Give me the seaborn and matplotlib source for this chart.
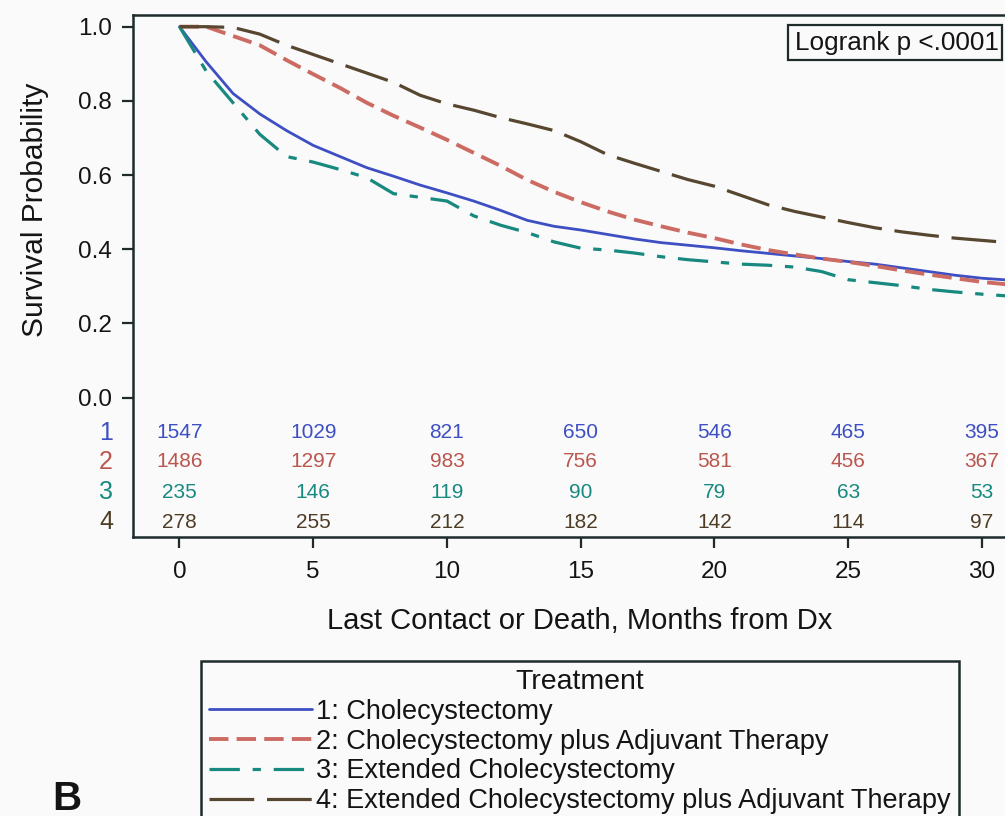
import numpy as np
import pandas as pd
import seaborn as sns
import matplotlib.pyplot as plt
from matplotlib.patches import Rectangle

# survival curves, one value per month
months = list(range(0, 32))
surv_chole = [1.0, 0.905, 0.82, 0.765, 0.72, 0.68, 0.65, 0.62, 0.597, 0.573,
              0.552, 0.53, 0.505, 0.478, 0.462, 0.452, 0.44, 0.428, 0.418, 0.411,
              0.404, 0.396, 0.389, 0.382, 0.375, 0.367, 0.36, 0.35, 0.34, 0.33,
              0.322, 0.317]
surv_chole_adj = [1.0, 1.0, 0.975, 0.95, 0.91, 0.872, 0.835, 0.795, 0.76, 0.728,
                  0.695, 0.66, 0.625, 0.587, 0.555, 0.527, 0.502, 0.48, 0.462, 0.445,
                  0.43, 0.413, 0.398, 0.386, 0.375, 0.366, 0.355, 0.343, 0.332, 0.322,
                  0.312, 0.305]
surv_ext = [1.0, 0.88, 0.795, 0.71, 0.65, 0.635, 0.615, 0.593, 0.55, 0.54,
            0.53, 0.49, 0.465, 0.445, 0.42, 0.403, 0.398, 0.39, 0.38, 0.372,
            0.366, 0.36, 0.357, 0.352, 0.34, 0.318, 0.31, 0.302, 0.292, 0.285,
            0.279, 0.274]
surv_ext_adj = [1.0, 1.0, 0.998, 0.98, 0.95, 0.925, 0.9, 0.875, 0.85, 0.815,
                0.792, 0.775, 0.755, 0.738, 0.72, 0.69, 0.655, 0.632, 0.61, 0.588,
                0.57, 0.545, 0.52, 0.502, 0.487, 0.472, 0.458, 0.447, 0.438, 0.43,
                0.424, 0.418]

treatments = ['1: Cholecystectomy',
              '2: Cholecystectomy plus Adjuvant Therapy',
              '3: Extended Cholecystectomy',
              '4: Extended Cholecystectomy plus Adjuvant Therapy']
group_ids = ['1', '2', '3', '4']

# numbers at risk
risk_times = [0, 5, 10, 15, 20, 25, 30]
risk_chole = [1547, 1029, 821, 650, 546, 465, 395]
risk_chole_adj = [1486, 1297, 983, 756, 581, 456, 367]
risk_ext = [235, 146, 119, 90, 79, 63, 53]
risk_ext_adj = [278, 255, 212, 182, 142, 114, 97]

curves = [surv_chole, surv_chole_adj, surv_ext, surv_ext_adj]
at_risk = [risk_chole, risk_chole_adj, risk_ext, risk_ext_adj]

line_colors = ['#3d4fc2', '#cc6b63', '#17897f', '#574630']
text_colors = ['#3d4fc2', '#b9564e', '#17897f', '#4e3d26']
line_widths = [2.0, 2.8, 2.3, 2.3]
line_styles = ['-', (0, (5.0, 2.1)), (0, (9.5, 4.0, 2.6, 4.0)), (0, (14, 4.0))]

sns.set_theme(style='white')
plt.rcParams['font.family'] = ['Liberation Sans', 'DejaVu Sans']
dark = '#141414'
plt.rcParams['text.color'] = dark
plt.rcParams['axes.labelcolor'] = dark
plt.rcParams['xtick.labelcolor'] = dark
plt.rcParams['ytick.labelcolor'] = dark
bg = '#fafafa'

fig = plt.figure(figsize=(10.05, 8.16), dpi=100, facecolor=bg)
ax = fig.add_axes([133 / 1005, 279 / 816, 872 / 1005, 522 / 816])
ax.set_facecolor(bg)

for i, name in enumerate(treatments):
    df = pd.DataFrame({'month': months, 'surv': curves[i]})
    sns.lineplot(data=df, x='month', y='surv', ax=ax, color=line_colors[i],
                 linewidth=line_widths[i], linestyle=line_styles[i],
                 label=name, legend=False)

ax.set_xlim(-1.738, 30.86)
ax.set_ylim(-0.3755, 1.0315)
ax.set_xticks(risk_times)
ax.set_yticks([0.0, 0.2, 0.4, 0.6, 0.8, 1.0])
ax.set_yticklabels(['0.0', '0.2', '0.4', '0.6', '0.8', '1.0'])
ax.tick_params(axis='x', labelsize=17.5, length=8, width=1.6, pad=9,
               direction='out', bottom=True, color='#1f2b2b')
ax.tick_params(axis='y', labelsize=17.5, length=8, width=1.6, pad=7,
               direction='out', left=True, color='#1f2b2b')

for side in ['left', 'bottom', 'top']:
    ax.spines[side].set_color('#1f2b2b')
    ax.spines[side].set_linewidth(1.8)
ax.spines['right'].set_visible(False)

ax.set_xlabel('Last Contact or Death, Months from Dx', fontsize=21)
ax.xaxis.label.set_va('center')
ax.xaxis.set_label_coords(0.5126, -0.161)
ax.set_ylabel('Survival Probability', fontsize=21.5)
ax.yaxis.label.set_va('center')
ax.yaxis.set_label_coords(-0.1124, 0.626)

# at-risk table inside the axes
row_y = [0.1998, 0.1437, 0.0862, 0.0287]
for i in range(4):
    for t, n in zip(risk_times, at_risk[i]):
        ax.text(t, row_y[i], str(n), transform=ax.get_xaxis_transform(),
                ha='center', va='center', fontsize=15, color=text_colors[i])
    ax.text(-0.023, row_y[i], group_ids[i], transform=ax.transAxes,
            ha='right', va='center', fontsize=18, color=text_colors[i],
            clip_on=False)

# logrank box
fig.add_artist(Rectangle((788 / 1005, 1 - 60 / 816), 214 / 1005, 35 / 816,
                         transform=fig.transFigure, facecolor='none',
                         edgecolor='#1f2b2b', linewidth=1.6))
fig.text(795 / 1005, 1 - 43 / 816, 'Logrank p <.0001', fontsize=18.8,
         ha='left', va='center')

handles, labels = ax.get_legend_handles_labels()
leg = fig.legend(handles, labels, title='Treatment', loc='upper left',
                 bbox_to_anchor=(201 / 1005, 1 - 661 / 816), fontsize=19.5,
                 title_fontsize=20.5, frameon=True, fancybox=False, shadow=False,
                 framealpha=1, handlelength=3.8, handletextpad=0.15,
                 borderpad=0.3, labelspacing=0.14, borderaxespad=0)
leg.get_frame().set_edgecolor('#1f2b2b')
leg.get_frame().set_linewidth(1.8)
leg.get_frame().set_facecolor(bg)

fig.text(52 / 1005, 1 - 810 / 816, 'B', fontsize=29, fontweight='bold',
         ha='left', va='baseline')

fig.savefig('out.png', dpi=100, facecolor=bg)
